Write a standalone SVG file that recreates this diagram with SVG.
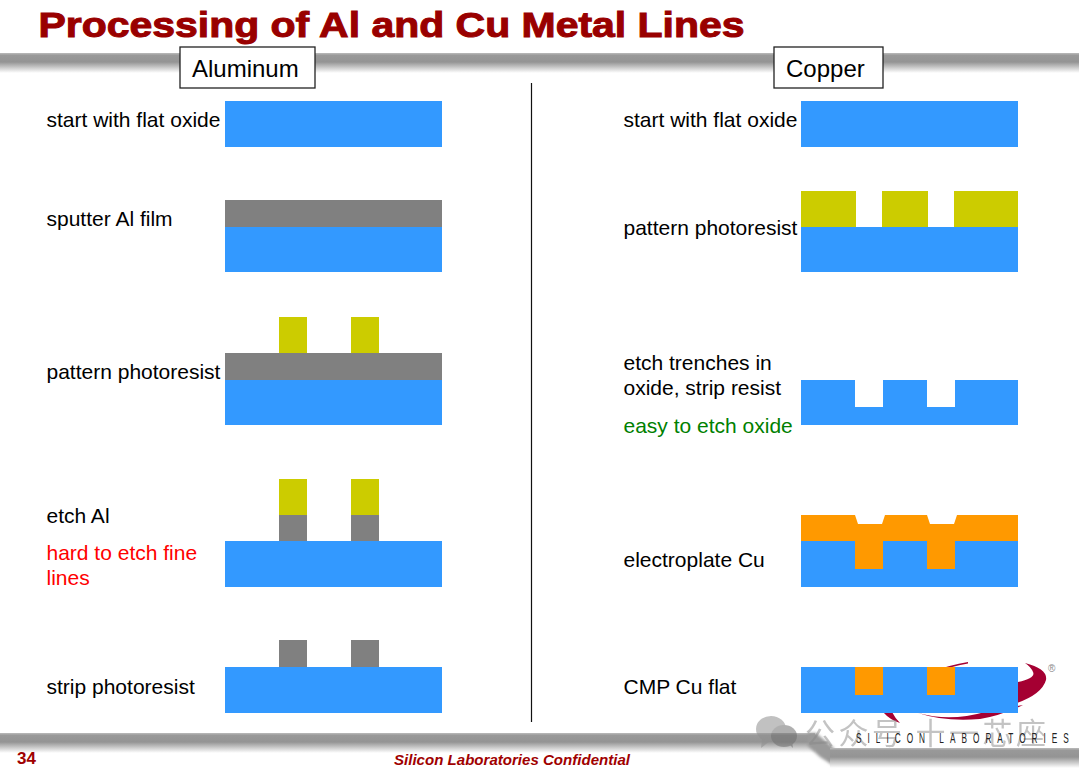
<svg xmlns="http://www.w3.org/2000/svg" width="1079" height="775" viewBox="0 0 1079 775">
<style>
.t{font-family:"Liberation Sans",Arial,sans-serif;font-size:21px;fill:#000}
.ox{fill:#3399ff}.al{fill:#808080}.pr{fill:#cccc00}.cu{fill:#ff9900}
.box{fill:#fff;stroke:#222;stroke-width:1.3}
.red{fill:#a50032}
</style>
<defs>
<linearGradient id="bar" x1="0" y1="0" x2="0" y2="1"><stop offset="0" stop-color="#bbb"/><stop offset=".12" stop-color="#999"/><stop offset=".45" stop-color="#949494"/><stop offset="1" stop-color="#fff"/></linearGradient>
<filter id="soft" x="-20%" y="-20%" width="140%" height="140%"><feGaussianBlur stdDeviation="1.5"/></filter>
</defs>
<rect width="1079" height="775" fill="#fff"/>
<g id="bars">
<rect x="0" y="53" width="1079" height="20" fill="url(#bar)"/>
<rect x="0" y="733" width="815" height="20" fill="url(#bar)"/>
<path d="M808 733H816L834 748V766L820 757L808 746Z" fill="#9a9a9a" filter="url(#soft)"/>
<rect x="830" y="748" width="249" height="20" fill="url(#bar)"/>
</g>
<text x="38.500" y="36.500" style="font-family:'Liberation Sans',Arial,sans-serif;font-size:35px;font-weight:bold;fill:#990000;stroke:#990000;stroke-width:1" textLength="706" lengthAdjust="spacingAndGlyphs">Processing of Al and Cu Metal Lines</text>
<g id="logo">
<path class="red" d="M930 672Q950 665 968 662L968 663.500Q950 667 935 672Z"/>
<path class="red" d="M1025 663Q1048 669 1046 680Q1042 694 1017 703L1010 700V684L1018 682Q1036 678 1033 672Q1031 667 1025 663Z"/>
<path class="red" d="M918 713Q950 722 985 712L1023 705Q1000 716 980 719Q945 722 918 713Z"/>
<path class="red" d="M883 712H892Q895 718 900 723Q890 720 883 712Z"/>
<text x="1048" y="672" style="font-family:'Liberation Sans',Arial,sans-serif;font-size:10px;fill:#888">®</text>
</g>
<g id="tab-aluminum"><rect class="box" x="180" y="47" width="135" height="41"/><text class="t" x="192" y="77" style="font-size:24px">Aluminum</text></g>
<g id="tab-copper"><rect class="box" x="774" y="47" width="109" height="41"/><text class="t" x="786" y="77" style="font-size:24px">Copper</text></g>
<g id="connectors"><line x1="531.500" y1="83" x2="531.500" y2="722" stroke="#111" stroke-width="1.200"/></g>
<g id="al-1"><text class="t" x="46.500" y="127">start with flat oxide</text><rect class="ox" x="225" y="101" width="217" height="46"/></g>
<g id="al-2"><text class="t" x="46.500" y="226">sputter Al film</text><rect class="al" x="225" y="200" width="217" height="27"/><rect class="ox" x="225" y="227" width="217" height="45"/></g>
<g id="al-3"><text class="t" x="46.500" y="379">pattern photoresist</text><rect class="pr" x="279" y="317" width="28" height="36"/><rect class="pr" x="351" y="317" width="28" height="36"/><rect class="al" x="225" y="353" width="217" height="27"/><rect class="ox" x="225" y="380" width="217" height="45"/></g>
<g id="al-4"><text class="t" x="46.500" y="523">etch Al</text><text class="t" x="46.500" y="560" style="fill:#ff0000">hard to etch fine</text><text class="t" x="46.500" y="585" style="fill:#ff0000">lines</text>
<rect class="pr" x="279" y="479" width="28" height="36"/><rect class="pr" x="351" y="479" width="28" height="36"/><rect class="al" x="279" y="515" width="28" height="26"/><rect class="al" x="351" y="515" width="28" height="26"/><rect class="ox" x="225" y="541" width="217" height="46"/></g>
<g id="al-5"><text class="t" x="46.500" y="694">strip photoresist</text><rect class="al" x="279" y="640" width="28" height="27"/><rect class="al" x="351" y="640" width="28" height="27"/><rect class="ox" x="225" y="667" width="217" height="46"/></g>
<g id="cu-1"><text class="t" x="623.500" y="127">start with flat oxide</text><rect class="ox" x="801" y="101" width="217" height="46"/></g>
<g id="cu-2"><text class="t" x="623.500" y="235">pattern photoresist</text><rect class="pr" x="801" y="191" width="55" height="36"/><rect class="pr" x="882" y="191" width="46" height="36"/><rect class="pr" x="954" y="191" width="64" height="36"/><rect class="ox" x="801" y="227" width="217" height="45"/></g>
<g id="cu-3"><text class="t" x="623.500" y="370">etch trenches in</text><text class="t" x="623.500" y="395">oxide, strip resist</text><text class="t" x="623.500" y="433" style="fill:#008000">easy to etch oxide</text>
<path class="ox" d="M801 380H855V407H883V380H927V407H955V380H1018V425H801Z"/></g>
<g id="cu-4"><text class="t" x="623.500" y="567">electroplate Cu</text><rect class="ox" x="801" y="541" width="217" height="46"/>
<path class="cu" d="M801 515H855L858 524H882L885 515H927L930 524H954L957 515H1018V541H955V569H927V541H883V569H855V541H801Z"/></g>
<g id="cu-5"><text class="t" x="623.500" y="694">CMP Cu flat</text><rect class="ox" x="801" y="667" width="217" height="46"/><rect class="cu" x="855" y="667" width="28" height="28"/><rect class="cu" x="927" y="667" width="28" height="28"/></g>
<g id="watermark">
<g opacity=".55">
<ellipse cx="771" cy="729" rx="15" ry="13" fill="#8f8f8f"/><path d="M762 739L761 748L770 741Z" fill="#8f8f8f"/>
<ellipse cx="784" cy="736" rx="13" ry="11" fill="#6f6f6f"/><path d="M790 745L793 748L792 741Z" fill="#6f6f6f"/>
</g>
<text x="805" y="744" opacity=".5" style="font-family:'Noto Sans CJK SC',sans-serif;font-size:30px;fill:#888" textLength="241" lengthAdjust="spacing">公众号 十一芯座</text>
</g>
<text transform="translate(856 743) scale(.55 1)" x="0" y="0" style="font-family:'Liberation Sans',Arial,sans-serif;font-size:15px;fill:#222" textLength="387" lengthAdjust="spacing">SILICON LABORATORIES</text>
<text x="17" y="764" style="font-family:'Liberation Sans',Arial,sans-serif;font-size:17px;font-weight:bold;fill:#a00000">34</text>
<text x="394" y="765" style="font-family:'Liberation Sans',Arial,sans-serif;font-size:15px;font-weight:bold;font-style:italic;fill:#a00000" textLength="236" lengthAdjust="spacingAndGlyphs">Silicon Laboratories Confidential</text>
</svg>
